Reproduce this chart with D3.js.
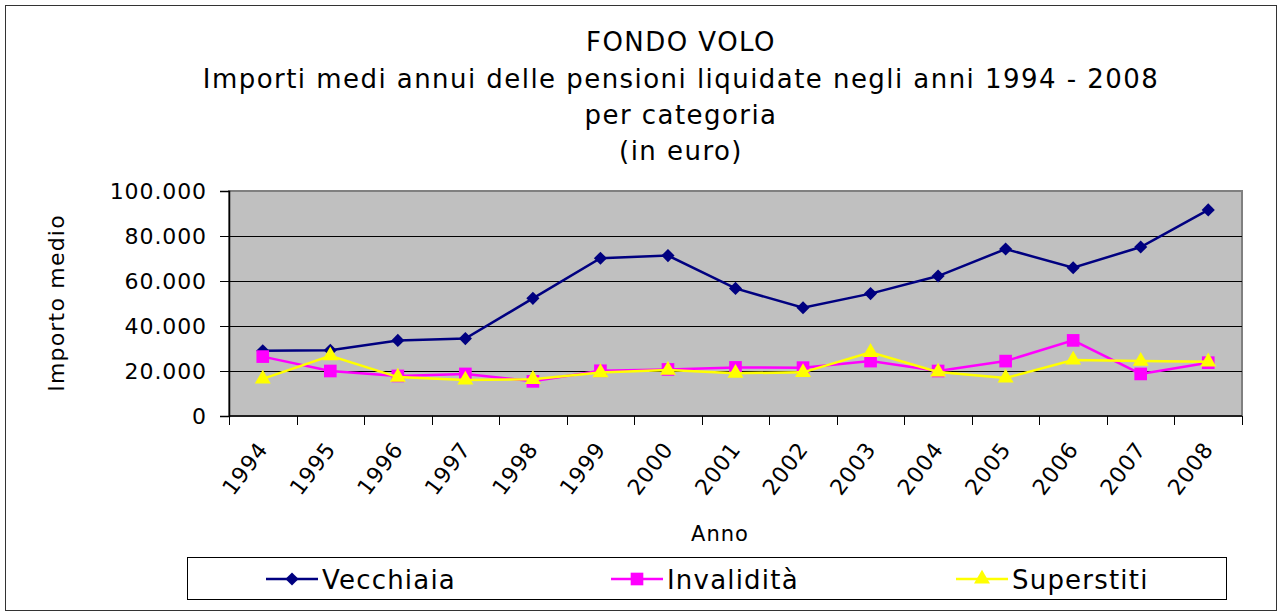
<!DOCTYPE html>
<html lang="it">
<head>
<meta charset="UTF-8">
<script src="https://d3js.org/d3.v7.min.js"></script>
<title>Fondo Volo</title>
<style>
  body { margin: 0; background: #fff; }
  svg { display: block; font-family: "DejaVu Sans", Verdana, sans-serif; }
</style>
</head>
<body>
<div id="chart"></div>
<script>
// data
var years = ["1994","1995","1996","1997","1998","1999","2000","2001","2002","2003","2004","2005","2006","2007","2008"];
var vecchiaia   = [29000, 29200, 33600, 34400, 52300, 70100, 71300, 56700, 48100, 54400, 62200, 74200, 65900, 75100, 91600];
var invalidita  = [26400, 20000, 17800, 18700, 15400, 20100, 20700, 21600, 21500, 24400, 20000, 24400, 33600, 18700, 23700];
var superstiti  = [16500, 26800, 17300, 16000, 16300, 19300, 20400, 19000, 19400, 28300, 19600, 16900, 24900, 24400, 24100];
var yTicks = [0, 20000, 40000, 60000, 80000, 100000];
var titleLines = ["FONDO VOLO", "Importi medi annui delle pensioni liquidate negli anni 1994 - 2008", "per categoria", "(in euro)"];

var series = [
  {name: "Vecchiaia",  values: vecchiaia,  color: "#000080", shape: "diamond"},
  {name: "Invalidità", values: invalidita, color: "#ff00ff", shape: "square"},
  {name: "Superstiti", values: superstiti, color: "#ffff00", shape: "triangle"}
];

var W = 1282, H = 616;
var plot = {left: 229, top: 191, right: 1242, bottom: 416};

var svg = d3.select("#chart").append("svg")
    .attr("width", W)
    .attr("height", H);

// outer border
svg.append("rect")
    .attr("x", 5.5).attr("y", 5.5)
    .attr("width", W - 11).attr("height", H - 11)
    .attr("fill", "#fff")
    .attr("stroke", "#333")
    .attr("stroke-width", 1);

// title
svg.selectAll(".title")
    .data(titleLines)
  .enter().append("text")
    .attr("class", "title")
    .attr("x", 681)
    .attr("y", function(d, i) { return [51, 88, 124, 160][i]; })
    .attr("text-anchor", "middle")
    .attr("font-size", "26px")
    .attr("letter-spacing", "1.45px")
    .attr("fill", "#000")
    .text(function(d) { return d; });

var x = d3.scaleBand().domain(years).range([plot.left, plot.right]);
var y = d3.scaleLinear().domain([0, 100000]).range([plot.bottom, plot.top]);

// plot background
svg.append("rect")
    .attr("x", plot.left).attr("y", plot.top)
    .attr("width", plot.right - plot.left)
    .attr("height", plot.bottom - plot.top)
    .attr("fill", "#c0c0c0")
    .attr("stroke", "#808080")
    .attr("stroke-width", 2);

// gridlines
svg.selectAll(".grid")
    .data(yTicks.slice(1, -1))
  .enter().append("line")
    .attr("class", "grid")
    .attr("x1", plot.left).attr("x2", plot.right)
    .attr("y1", function(d) { return Math.round(y(d)) + 0.5; })
    .attr("y2", function(d) { return Math.round(y(d)) + 0.5; })
    .attr("stroke", "#000")
    .attr("stroke-width", 1);

// y axis
var yAxis = d3.axisLeft(y)
    .tickValues(yTicks)
    .tickSize(9)
    .tickPadding(13)
    .tickFormat(function(d) { return d === 0 ? "0" : d3.format(",")(d).replace(/,/g, "."); });

var gy = svg.append("g")
    .attr("transform", "translate(" + plot.left + ",0)")
    .call(yAxis);
gy.select(".domain").attr("stroke", "#000").attr("stroke-width", 1.5);
gy.selectAll(".tick line").attr("stroke", "#000");
gy.selectAll(".tick text")
    .attr("font-size", "22px")
    .attr("letter-spacing", "0.9px")
    .attr("font-family", "DejaVu Sans, Verdana, sans-serif")
    .attr("fill", "#000");

// x axis: ticks on band edges, labels at band centres
svg.append("line")
    .attr("x1", plot.left).attr("x2", plot.right)
    .attr("y1", plot.bottom).attr("y2", plot.bottom)
    .attr("stroke", "#000").attr("stroke-width", 1.5);

svg.selectAll(".xtick")
    .data(years.concat(["end"]))
  .enter().append("line")
    .attr("class", "xtick")
    .attr("x1", function(d, i) { return Math.round(plot.left + i * x.bandwidth()) + 0.5; })
    .attr("x2", function(d, i) { return Math.round(plot.left + i * x.bandwidth()) + 0.5; })
    .attr("y1", plot.bottom)
    .attr("y2", plot.bottom + 9)
    .attr("stroke", "#000");

svg.selectAll(".xlabel")
    .data(years)
  .enter().append("text")
    .attr("class", "xlabel")
    .attr("text-anchor", "end")
    .attr("font-size", "22px")
    .attr("letter-spacing", "0.9px")
    .attr("fill", "#000")
    .attr("transform", function(d) {
      return "translate(" + (x(d) + x.bandwidth() / 2 - 6) + "," + (plot.bottom + 24) + ") rotate(-53)";
    })
    .attr("dy", "0.7em")
    .text(function(d) { return d; });

// axis titles
svg.append("text")
    .attr("transform", "translate(64,303) rotate(-90)")
    .attr("text-anchor", "middle")
    .attr("font-size", "22px")
    .attr("letter-spacing", "1.2px")
    .attr("fill", "#000")
    .text("Importo medio");

svg.append("text")
    .attr("x", 720)
    .attr("y", 541)
    .attr("text-anchor", "middle")
    .attr("font-size", "21px")
    .attr("letter-spacing", "1px")
    .attr("fill", "#000")
    .text("Anno");

// markers
function marker(shape) {
  if (shape === "diamond") return d3.symbol().type(d3.symbolDiamond2).size(110)();
  if (shape === "square") return d3.symbol().type(d3.symbolSquare).size(160)();
  return d3.symbol().type(d3.symbolTriangle).size(110)();
}

var line = d3.line()
    .x(function(d, i) { return x(years[i]) + x.bandwidth() / 2; })
    .y(function(d) { return y(d); });

series.forEach(function(s) {
  svg.append("path")
      .datum(s.values)
      .attr("fill", "none")
      .attr("stroke", s.color)
      .attr("stroke-width", 2.5)
      .attr("d", line);

  svg.selectAll(".pt-" + s.shape)
      .data(s.values)
    .enter().append("path")
      .attr("class", "pt-" + s.shape)
      .attr("d", marker(s.shape))
      .attr("fill", s.color)
      .attr("transform", function(d, i) {
        return "translate(" + (x(years[i]) + x.bandwidth() / 2) + "," + y(d) + ")";
      });
});

// legend
svg.append("rect")
    .attr("x", 187.5).attr("y", 557.5)
    .attr("width", 1039).attr("height", 42)
    .attr("fill", "#fff")
    .attr("stroke", "#000")
    .attr("stroke-width", 1);

var legendX = [266, 611, 956];
var lg = svg.selectAll(".legend")
    .data(series)
  .enter().append("g")
    .attr("class", "legend")
    .attr("transform", function(d, i) { return "translate(" + legendX[i] + ",579)"; });

lg.append("line")
    .attr("x1", 0).attr("x2", 52)
    .attr("stroke", function(d) { return d.color; })
    .attr("stroke-width", 2.5);

lg.append("path")
    .attr("d", function(d) { return marker(d.shape); })
    .attr("transform", "translate(26,0)")
    .attr("fill", function(d) { return d.color; });

lg.append("text")
    .attr("x", 56)
    .attr("y", 10)
    .attr("font-size", "26px")
    .attr("letter-spacing", "1.2px")
    .attr("fill", "#000")
    .text(function(d) { return d.name; });
</script>
</body>
</html>
